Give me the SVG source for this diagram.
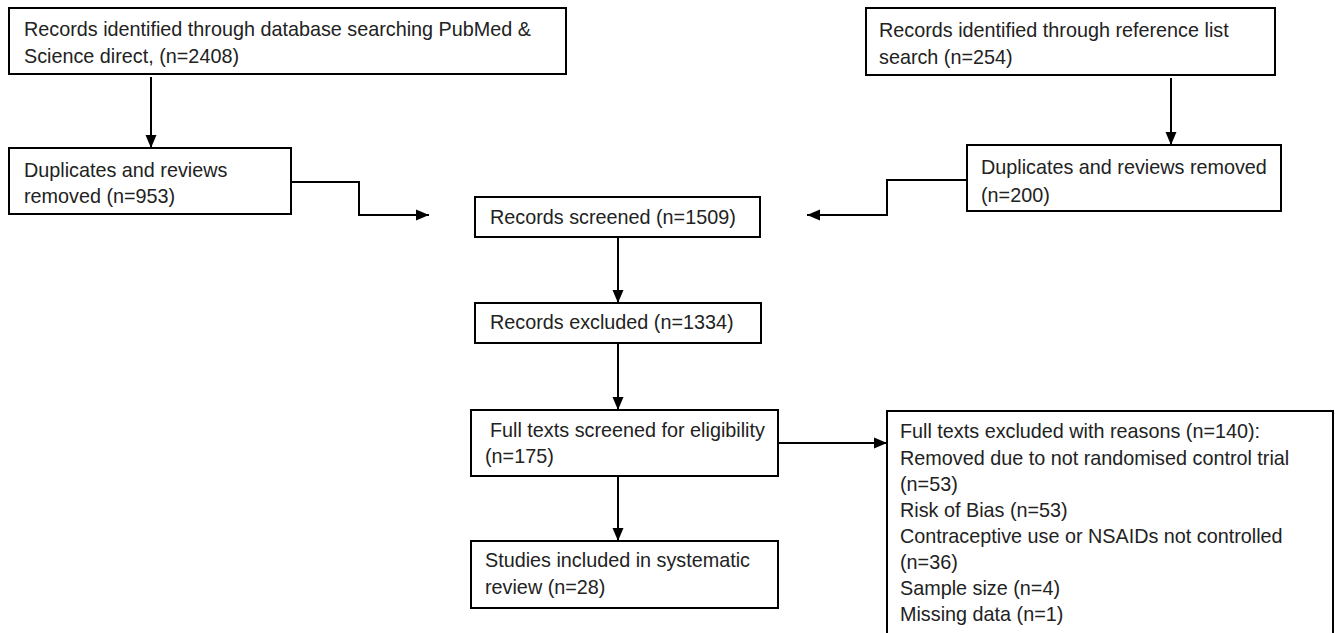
<svg xmlns="http://www.w3.org/2000/svg" width="1335" height="633" viewBox="0 0 1335 633">
  <defs>
    <marker id="arrow" markerUnits="userSpaceOnUse" markerWidth="14" markerHeight="12" refX="13" refY="6" orient="auto">
      <path d="M0,0.5 L13,6 L0,11.5 z" fill="#000"/>
    </marker>
    <style>
      .box { fill: #fff; stroke: #000; stroke-width: 2; }
      .t { font-family: "Liberation Sans", Arial, sans-serif; font-size: 19.8px; fill: #222; }
      .c { fill: none; stroke: #000; stroke-width: 2; marker-end: url(#arrow); }
    </style>
  </defs>
  <rect width="1335" height="633" fill="#fff"/>

  <g id="connectors">
    <path class="c" d="M151,77 V148"/>
    <path class="c" d="M291,182 H359 V215 H429"/>
    <path class="c" d="M1171,78 V145"/>
    <path class="c" d="M967,180 H887 V215 H807"/>
    <path class="c" d="M618,237 V303"/>
    <path class="c" d="M618,343 V410"/>
    <path class="c" d="M618,476 V541"/>
    <path class="c" d="M778,443 H887"/>
  </g>

  <g id="n1">
    <rect class="box" x="9" y="8" width="557" height="66"/>
    <text class="t" x="24" y="36">Records identified through database searching PubMed &amp;</text>
    <text class="t" x="24" y="63">Science direct, (n=2408)</text>
  </g>
  <g id="n2">
    <rect class="box" x="9" y="148" width="282" height="66"/>
    <text class="t" x="24" y="177">Duplicates and reviews</text>
    <text class="t" x="24" y="203">removed (n=953)</text>
  </g>
  <g id="n3">
    <rect class="box" x="866" y="8" width="409" height="67"/>
    <text class="t" x="879" y="37">Records identified through reference list</text>
    <text class="t" x="879" y="64">search (n=254)</text>
  </g>
  <g id="n4">
    <rect class="box" x="967" y="145" width="314" height="66"/>
    <text class="t" x="981" y="174">Duplicates and reviews removed</text>
    <text class="t" x="981" y="202">(n=200)</text>
  </g>
  <g id="n5">
    <rect class="box" x="475" y="197" width="285" height="40"/>
    <text class="t" x="490" y="224">Records screened (n=1509)</text>
  </g>
  <g id="n6">
    <rect class="box" x="475" y="303" width="286" height="40"/>
    <text class="t" x="490" y="329">Records excluded (n=1334)</text>
  </g>
  <g id="n7">
    <rect class="box" x="471" y="410" width="307" height="66"/>
    <text class="t" x="490" y="437">Full texts screened for eligibility</text>
    <text class="t" x="485" y="463">(n=175)</text>
  </g>
  <g id="n8">
    <rect class="box" x="471" y="541" width="307" height="67"/>
    <text class="t" x="485" y="567">Studies included in systematic</text>
    <text class="t" x="485" y="594">review (n=28)</text>
  </g>
  <g id="n9">
    <rect class="box" x="887" y="411" width="446" height="240"/>
    <text class="t" x="900" y="438">Full texts excluded with reasons (n=140):</text>
    <text class="t" x="900" y="465">Removed due to not randomised control trial</text>
    <text class="t" x="900" y="491">(n=53)</text>
    <text class="t" x="900" y="517">Risk of Bias (n=53)</text>
    <text class="t" x="900" y="543">Contraceptive use or NSAIDs not controlled</text>
    <text class="t" x="900" y="569">(n=36)</text>
    <text class="t" x="900" y="595">Sample size (n=4)</text>
    <text class="t" x="900" y="621">Missing data (n=1)</text>
  </g>
</svg>
